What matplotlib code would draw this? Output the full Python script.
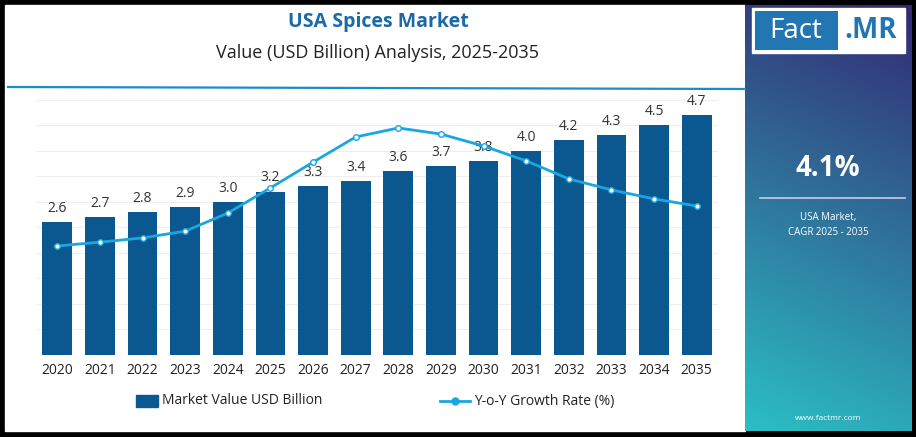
import numpy as np
import matplotlib.pyplot as plt
from matplotlib.patches import Rectangle

years = [str(y) for y in range(2020, 2036)]
market_value = [2.6, 2.7, 2.8, 2.9, 3.0, 3.2, 3.3, 3.4, 3.6, 3.7, 3.8, 4.0, 4.2, 4.3, 4.5, 4.7]
yoy_growth = [3.38, 3.50, 3.63, 3.84, 4.40, 5.18, 5.98, 6.76, 7.04, 6.85, 6.48, 6.02, 5.46, 5.12, 4.84, 4.62]

W, H = 916, 437
fig = plt.figure(figsize=(W / 100, H / 100), dpi=100, facecolor='black')
plt.rcParams['font.family'] = ['Open Sans', 'DejaVu Sans']

def fx(px): return px / W
def fy(py): return 1 - py / H

# white panel
fig.patches.append(Rectangle((fx(5), fy(431)), fx(740), (431 - 5) / H, transform=fig.transFigure,
                             color='white', zorder=-5))

# gradient side panel
gax = fig.add_axes([fx(745), fy(431), fx(167), (431 - 5) / H])
top = np.array([0.20, 0.16, 0.45])
bot = np.array([0.17, 0.75, 0.77])
t = np.linspace(0, 1, 256)[:, None, None]
s = np.linspace(0, 1, 64)[None, :, None]
mix = np.clip(t * 0.85 + (1 - s) * 0.15, 0, 1)
grad = top * (1 - mix) + bot * mix
gax.imshow(np.clip(grad, 0, 1), aspect='auto', extent=[0, 1, 0, 1])
gax.set_xlim(0, 1); gax.set_ylim(0, 1); gax.axis('off')

# logo
fig.patches.append(Rectangle((fx(752), fy(53)), fx(153), 45 / H, transform=fig.transFigure,
                             facecolor='white', edgecolor='white', zorder=5))
fig.patches.append(Rectangle((fx(755), fy(50)), fx(83), 39 / H, transform=fig.transFigure,
                             facecolor='#2277b3', zorder=6))
fig.text(fx(796), fy(31), 'Fact', color='white', fontsize=20, ha='center', va='center', zorder=7)
fig.text(fx(871), fy(31), '.MR', color='#2277b3', fontsize=20, fontweight='bold', ha='center', va='center', zorder=7)

fig.text(fx(828), fy(168), '4.1%', color='white', fontsize=20, fontweight='bold', ha='center', va='center', zorder=7)
fig.add_artist(plt.Line2D([fx(760), fx(905)], [fy(198), fy(198)], color='#c8cce8', lw=1.2, transform=fig.transFigure))
fig.text(fx(828), fy(218), 'USA Market,', color='white', fontsize=7, ha='center', va='center')
fig.text(fx(828), fy(233), 'CAGR 2025 - 2035', color='white', fontsize=7, ha='center', va='center')
fig.text(fx(828), fy(418), 'www.factmr.com', color='white', fontsize=6, ha='center', va='center')

# titles
fig.text(fx(378), fy(22), 'USA Spices Market', color='#1b6aa5', fontsize=14, fontweight='bold', ha='center', va='center')
fig.text(fx(378), fy(53), 'Value (USD Billion) Analysis, 2025-2035', color='#222222', fontsize=13, ha='center', va='center')
fig.add_artist(plt.Line2D([fx(8), fx(745)], [fy(87), fy(89)], color='#1a8ccc', lw=1.6, transform=fig.transFigure))

# chart
ax = fig.add_axes([fx(36), fy(355), fx(682), 258 / H])
ax.patch.set_alpha(0)
x = np.arange(len(years))
ax.bar(x, market_value, width=0.7, color='#0b5891', zorder=2)
for xi, v in zip(x, market_value):
    ax.text(xi, v + 0.12, f'{v:.1f}', ha='center', va='bottom', fontsize=10, color='#333333', zorder=4)
ax.set_xlim(-0.5, len(years) - 0.5)
ax.set_ylim(0, 5.05)
ax.set_yticks(np.arange(0.5, 5.01, 0.5))
ax.yaxis.grid(True, color='#eeeeee', lw=0.8, zorder=0)
ax.set_axisbelow(True)
ax.set_yticklabels([])
ax.tick_params(axis='y', length=0)
ax.tick_params(axis='x', length=0, labelsize=10, labelcolor='#222222', pad=6)
ax.set_xticks(x)
ax.set_xticklabels(years)
for sp in ax.spines.values():
    sp.set_visible(False)

ax2 = ax.twinx()
ax2.plot(x, yoy_growth, color='#1aa6e0', lw=2, marker='o', markersize=4,
         markerfacecolor='white', markeredgecolor='#1aa6e0', zorder=3)
ax2.set_ylim(0, 8)
ax2.axis('off')

# legend
fig.patches.append(Rectangle((fx(136), fy(407)), fx(22), 12 / H, transform=fig.transFigure, color='#0b5891'))
fig.text(fx(162), fy(401), 'Market Value USD Billion', fontsize=10, color='#222222', va='center')
fig.add_artist(plt.Line2D([fx(440), fx(470)], [fy(401), fy(401)], color='#1aa6e0', lw=2,
                          transform=fig.transFigure))
fig.add_artist(plt.Line2D([fx(455)], [fy(401)], color='#1aa6e0', marker='o', markersize=5,
                          transform=fig.transFigure))
fig.text(fx(474), fy(401), 'Y-o-Y Growth Rate (%)', fontsize=10, color='#222222', va='center')

fig.savefig('out.png', dpi=100, facecolor='black')
